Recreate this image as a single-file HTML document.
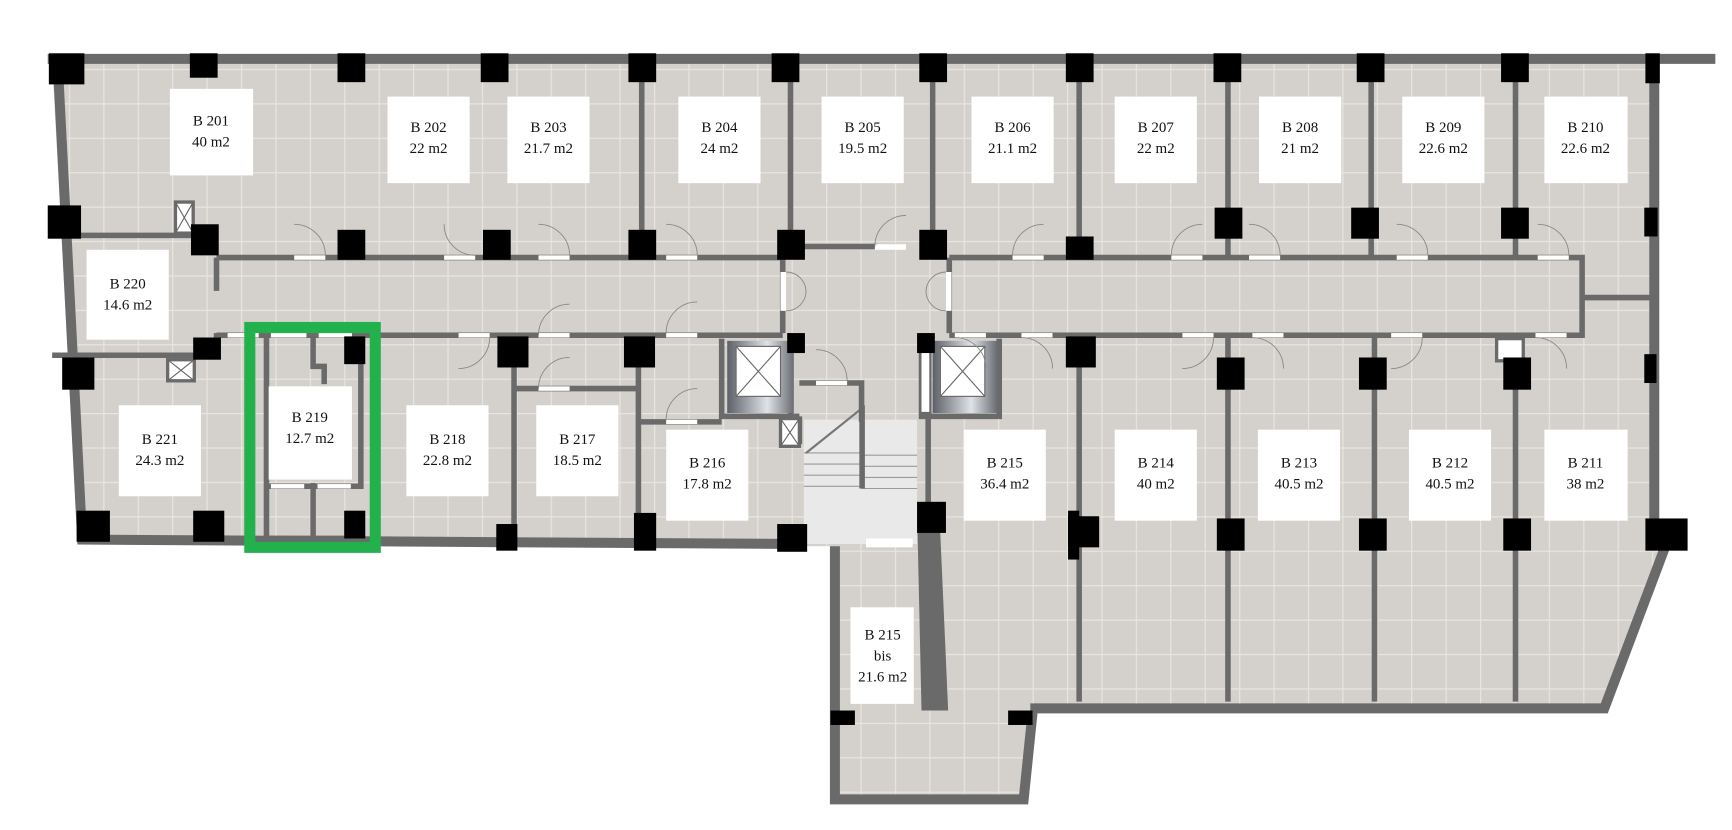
<!DOCTYPE html>
<html><head><meta charset="utf-8"><style>
html,body{margin:0;padding:0;background:#fff;width:1732px;height:830px;overflow:hidden}
svg{display:block}
text{font-family:"Liberation Serif","DejaVu Serif",serif;font-size:13.5px;fill:#111;text-anchor:middle}
</style></head><body>
<svg width="1732" height="830" viewBox="0 0 1560 747.6" preserveAspectRatio="none" xmlns="http://www.w3.org/2000/svg">
<defs>
<pattern id="t" x="0" y="0" width="31" height="31" patternUnits="userSpaceOnUse">
<rect width="31" height="31" fill="#d4d0cb"/>
<path d="M0 0.5H31M0.5 0V31" stroke="#e8e5e1" stroke-width="1.2"/>
</pattern>
<linearGradient id="el" x1="0" x2="1"><stop offset="0" stop-color="#5d6068"/><stop offset=".6" stop-color="#dfe2e6"/><stop offset="1" stop-color="#6a6d74"/></linearGradient>
</defs>
<!-- floor -->
<polygon points="47,55 1490,55 1490,470 1500,495 1445,640 928,640 922,722 748,722 748,492 70,488" fill="url(#t)"/>
<!-- outer walls -->
<g fill="none" stroke="#6a6a6a" stroke-width="9" stroke-linejoin="miter">
<polyline points="43,53 1545,53"/>
<polyline points="1490,53 1490,475"/>
<polyline points="1500,492 1445,638 928,638"/>
<polyline points="52,57 74,486 720,490"/>
<polyline points="752,492 752,720 922,720 930,642"/>
</g>
<!-- thick wall 215bis/215 -->
<polygon points="826,460 846,460 854,640 830,640" fill="#6a6a6a"/>
<!-- stair core -->
<rect x="724" y="378" width="102" height="112" fill="#e9e9ea"/>
<g stroke="#9a9a9a" stroke-width="1">
<line x1="724" y1="408" x2="776" y2="408"/><line x1="724" y1="418" x2="776" y2="418"/><line x1="724" y1="428" x2="776" y2="428"/><line x1="724" y1="438" x2="776" y2="438"/>
<line x1="776" y1="410" x2="826" y2="410"/><line x1="776" y1="420" x2="826" y2="420"/><line x1="776" y1="430" x2="826" y2="430"/><line x1="776" y1="440" x2="826" y2="440"/>
</g>
<line x1="726" y1="408" x2="776" y2="368" stroke="#777" stroke-width="2"/>
<rect x="774" y="365" width="5" height="75" fill="#6a6a6a"/>
<rect x="780" y="485" width="42" height="8" fill="#fff"/>
<!-- interior walls -->
<g stroke="#6a6a6a" stroke-width="5" fill="none">
<path d="M195 232H705M855 232H1425V302H855M705 302H195"/>
<path d="M1425 268H1490"/>
<path d="M47 212H185M195 232V262M195 300V320M47 320H185"/>
<path d="M578 58V232M712 58V232M840 58V232M972 58V232M1106 58V232M1235 58V232M1365 58V232"/>
<path d="M712 222H790M830 222H840"/>
<path d="M705 232V300M855 232V300M712 300V385M836 300V460"/>
<path d="M463 302V488M575 302V488M463 350H575M575 380H650M650 305V375H720M830 305V375H900V305"/>
<path d="M972 302V632M1106 302V632M1238 302V632M1365 302V632"/>
<path d="M720 345H776V380M720 375V400"/>
<path d="M240 302V485H325M282 302V330H292V346M282 435V485M240 438H325V302"/>
</g>
<!-- elevators -->
<rect x="655" y="307" width="60" height="65" fill="url(#el)"/>
<rect x="663" y="312" width="40" height="45" fill="#fff" stroke="#666"/>
<path d="M663 312L703 357M703 312L663 357" stroke="#666"/>
<rect x="840" y="307" width="58" height="65" fill="url(#el)"/>
<rect x="847" y="312" width="40" height="45" fill="#fff" stroke="#666"/>
<path d="M847 312L887 357M887 312L847 357" stroke="#666"/>
<rect x="829" y="312" width="9" height="60" fill="#fff" stroke="#6a6a6a" stroke-width="2"/>
<!-- shafts -->
<g fill="#fff" stroke="#6a6a6a" stroke-width="3">
<rect x="158" y="182" width="16" height="28"/><rect x="151" y="324" width="24" height="19"/><rect x="703" y="377" width="17" height="25"/>
<rect x="1348" y="305" width="24" height="20"/>
</g>
<path d="M158 182L174 210M174 182L158 210M151 324L175 343M175 324L151 343M703 377L720 402M720 377L703 402" stroke="#666"/>
<!-- door openings -->
<g fill="#fff">
<rect x="265" y="230" width="28" height="4"/><rect x="400" y="230" width="28" height="4"/><rect x="485" y="230" width="28" height="4"/><rect x="600" y="230" width="28" height="4"/>
<rect x="788" y="220" width="28" height="5"/><rect x="912" y="230" width="28" height="4"/><rect x="1055" y="230" width="28" height="4"/><rect x="1125" y="230" width="28" height="4"/><rect x="1258" y="230" width="28" height="4"/><rect x="1385" y="230" width="28" height="4"/>
<rect x="413" y="300" width="28" height="4"/><rect x="485" y="300" width="28" height="4"/><rect x="600" y="300" width="28" height="4"/><rect x="860" y="300" width="28" height="4"/><rect x="920" y="300" width="28" height="4"/><rect x="1065" y="300" width="28" height="4"/><rect x="1128" y="300" width="28" height="4"/><rect x="1253" y="300" width="28" height="4"/><rect x="1383" y="300" width="28" height="4"/>
<rect x="703" y="245" width="5" height="35"/><rect x="852" y="245" width="5" height="35"/>
<rect x="485" y="348" width="28" height="4"/><rect x="600" y="378" width="28" height="4"/><rect x="735" y="343" width="28" height="4"/>
<rect x="205" y="300" width="28" height="4"/><rect x="244" y="300" width="32" height="4"/><rect x="287" y="300" width="30" height="4"/>
<rect x="244" y="436" width="30" height="4"/><rect x="286" y="436" width="30" height="4"/>
</g>
<g fill="none" stroke="#888" stroke-width="0.8">
<path d="M265 202A28 28 0 0 1 293 230M400 202A28 28 0 0 0 428 230M485 202A28 28 0 0 1 513 230M600 202A28 28 0 0 1 628 230M816 194A28 28 0 0 0 788 222M940 202A28 28 0 0 0 912 230M1083 202A28 28 0 0 0 1055 230M1125 202A28 28 0 0 1 1153 230M1258 202A28 28 0 0 1 1286 230M1385 202A28 28 0 0 1 1413 230"/>
<path d="M441 304A28 28 0 0 1 413 332M513 274A28 28 0 0 0 485 302M628 272A28 28 0 0 0 600 300M860 304A28 28 0 0 1 888 332M920 304A28 28 0 0 1 948 332M1093 304A28 28 0 0 1 1065 332M1128 304A28 28 0 0 1 1156 332M1281 304A28 28 0 0 1 1253 332M1383 304A28 28 0 0 1 1411 332"/>
<path d="M513 322A28 28 0 0 0 485 350M628 350A28 28 0 0 0 600 378M735 315A28 28 0 0 1 763 343"/>
<path d="M708 245A18 18 0 0 1 726 263M708 280A18 18 0 0 0 726 262M852 245A18 18 0 0 0 834 263M852 280A18 18 0 0 1 834 262"/>
</g>
<!-- columns -->
<g fill="#000">
<rect x="44" y="48" width="32" height="28"/><rect x="171" y="48" width="25" height="22"/><rect x="304" y="48" width="25" height="26"/><rect x="433" y="48" width="25" height="26"/><rect x="566" y="48" width="25" height="26"/><rect x="695" y="48" width="25" height="26"/><rect x="828" y="48" width="25" height="26"/><rect x="960" y="48" width="25" height="26"/><rect x="1093" y="48" width="25" height="26"/><rect x="1222" y="48" width="25" height="26"/><rect x="1352" y="48" width="25" height="26"/><rect x="1482" y="48" width="13" height="27"/>
<rect x="43" y="185" width="30" height="30"/><rect x="172" y="202" width="25" height="28"/><rect x="304" y="207" width="25" height="27"/><rect x="435" y="207" width="25" height="27"/><rect x="566" y="207" width="25" height="27"/><rect x="700" y="207" width="25" height="27"/><rect x="828" y="207" width="25" height="27"/><rect x="960" y="213" width="25" height="21"/><rect x="1094" y="187" width="25" height="28"/><rect x="1217" y="187" width="25" height="28"/><rect x="1352" y="187" width="25" height="28"/><rect x="1481" y="187" width="12" height="26"/>
<rect x="174" y="304" width="25" height="20"/><rect x="310" y="303" width="19" height="25"/><rect x="448" y="303" width="28" height="28"/><rect x="562" y="303" width="28" height="28"/><rect x="709" y="300" width="16" height="18"/><rect x="826" y="300" width="16" height="18"/><rect x="960" y="303" width="27" height="28"/><rect x="1096" y="322" width="25" height="29"/><rect x="1224" y="322" width="25" height="29"/><rect x="1354" y="322" width="25" height="29"/><rect x="1481" y="319" width="11" height="26"/>
<rect x="56" y="322" width="29" height="29"/>
<rect x="69" y="460" width="30" height="28"/><rect x="174" y="460" width="28" height="28"/><rect x="310" y="460" width="19" height="25"/><rect x="447" y="472" width="19" height="24"/><rect x="571" y="462" width="20" height="34"/><rect x="700" y="472" width="27" height="25"/><rect x="826" y="452" width="26" height="28"/><rect x="962" y="465" width="28" height="28"/><rect x="1096" y="467" width="25" height="29"/><rect x="1224" y="467" width="25" height="29"/><rect x="1354" y="467" width="25" height="29"/><rect x="1482" y="467" width="38" height="29"/>
<rect x="962" y="460" width="10" height="44"/>
<rect x="748" y="640" width="22" height="13"/><rect x="908" y="640" width="22" height="13"/>
</g>
<!-- labels -->
<g fill="#fff">
<rect x="153" y="80" width="75" height="78"/>
<rect x="349" y="87" width="74" height="78"/><rect x="457" y="87" width="74" height="78"/><rect x="611" y="87" width="74" height="78"/><rect x="740" y="87" width="74" height="78"/><rect x="875" y="87" width="74" height="78"/><rect x="1004" y="87" width="74" height="78"/><rect x="1134" y="87" width="74" height="78"/><rect x="1263" y="87" width="74" height="78"/><rect x="1391" y="87" width="75" height="78"/>
<rect x="78" y="225" width="74" height="81"/>
<rect x="107" y="365" width="74" height="82"/><rect x="242" y="348" width="75" height="84"/><rect x="366" y="365" width="74" height="82"/><rect x="483" y="365" width="74" height="82"/>
<rect x="600" y="387" width="74" height="82"/><rect x="868" y="387" width="74" height="82"/><rect x="1004" y="387" width="74" height="82"/><rect x="1133" y="387" width="74" height="82"/><rect x="1269" y="387" width="74" height="82"/><rect x="1391" y="387" width="75" height="82"/>
<rect x="766" y="547" width="57" height="87"/>
</g>
<text x="190" y="113">B 201</text><text x="190" y="132">40 m2</text>
<text x="386" y="119">B 202</text><text x="386" y="138">22 m2</text>
<text x="494" y="119">B 203</text><text x="494" y="138">21.7 m2</text>
<text x="648" y="119">B 204</text><text x="648" y="138">24 m2</text>
<text x="777" y="119">B 205</text><text x="777" y="138">19.5 m2</text>
<text x="912" y="119">B 206</text><text x="912" y="138">21.1  m2</text>
<text x="1041" y="119">B 207</text><text x="1041" y="138">22 m2</text>
<text x="1171" y="119">B 208</text><text x="1171" y="138">21 m2</text>
<text x="1300" y="119">B 209</text><text x="1300" y="138">22.6 m2</text>
<text x="1428" y="119">B 210</text><text x="1428" y="138">22.6 m2</text>
<text x="115" y="260">B 220</text><text x="115" y="279">14.6 m2</text>
<text x="144" y="400">B 221</text><text x="144" y="419">24.3 m2</text>
<text x="279" y="380">B 219</text><text x="279" y="399">12.7 m2</text>
<text x="403" y="400">B 218</text><text x="403" y="419">22.8 m2</text>
<text x="520" y="400">B 217</text><text x="520" y="419">18.5 m2</text>
<text x="637" y="421">B 216</text><text x="637" y="440">17.8 m2</text>
<text x="905" y="421">B 215</text><text x="905" y="440">36.4 m2</text>
<text x="1041" y="421">B 214</text><text x="1041" y="440">40 m2</text>
<text x="1170" y="421">B 213</text><text x="1170" y="440">40.5 m2</text>
<text x="1306" y="421">B 212</text><text x="1306" y="440">40.5 m2</text>
<text x="1428" y="421">B 211</text><text x="1428" y="440">38 m2</text>
<text x="795" y="576">B 215</text><text x="795" y="595">bis</text><text x="795" y="614">21.6 m2</text>
<!-- highlight -->
<rect x="225" y="295" width="113" height="198" fill="none" stroke="#22b14c" stroke-width="10"/>
</svg>
</body></html>
